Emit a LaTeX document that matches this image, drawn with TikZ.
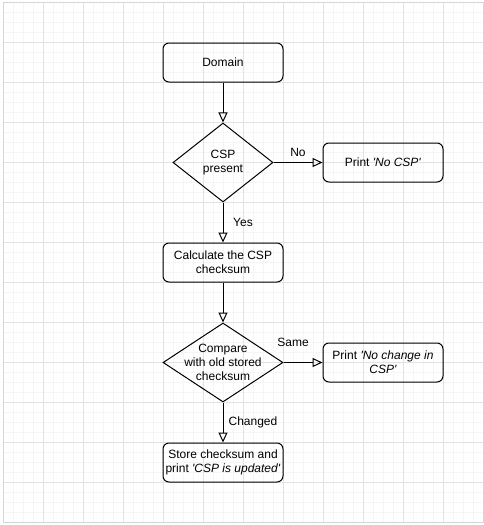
\documentclass[tikz,border=0pt]{standalone}
\usepackage{fontspec}
\setmainfont{Liberation Sans}
\usetikzlibrary{arrows.meta,shapes.geometric}
\definecolor{minorgrid}{HTML}{F5F5F5}
\definecolor{majorgrid}{HTML}{E2E2E2}
\definecolor{pageedge}{HTML}{D6D6D6}
\tikzset{
  box/.style={draw, line width=1pt, rounded corners=6pt, minimum width=120pt, minimum height=39pt, align=center, inner sep=2pt, font=\fontsize{12}{14}\selectfont},
  decision/.style={draw, line width=1pt, diamond, inner sep=0pt},
  dtext/.style={align=center, inner sep=0pt, font=\fontsize{12}{14}\selectfont},
  elabel/.style={inner sep=1pt, font=\fontsize{12}{14}\selectfont},
  arr/.style={line width=1pt, -{Triangle[open, length=10pt, width=9pt]}},
}
\newcommand{\sq}{\textquotesingle}
\begin{document}
\begin{tikzpicture}[x=1pt, y=-1pt]
\useasboundingbox (0,0) rectangle (484,525);
\fill[white] (0,0) rectangle (484,525);
% grid
\foreach \x in {13,23,...,473} \draw[minorgrid, line width=1pt] (\x,2) -- (\x,522);
\foreach \y in {12,22,...,512} \draw[minorgrid, line width=1pt] (3,\y) -- (483,\y);
\foreach \x in {43,83,...,443} \draw[majorgrid, line width=1pt] (\x,2) -- (\x,522);
\foreach \y in {42,82,...,482} \draw[majorgrid, line width=1pt] (3,\y) -- (483,\y);
\draw[pageedge, line width=1pt] (3,2) rectangle (483,522);

% nodes
\node[box] (dom) at (223,62.5) {Domain};
\node[decision, minimum width=100pt, minimum height=79pt] (d1) at (223,162.5) {};
\node[dtext] (d1t) at (d1) {CSP\\present};
\node[box] (nocsp) at (383,162.5) {Print \textit{\sq No CSP\sq}};
\node[box] (calc) at (223,262.5) {Calculate the CSP\\checksum};
\node[decision, minimum width=120pt, minimum height=79pt] (d2) at (223,362.5) {};
\node[dtext] (d2t) at (d2) {Compare\\with old stored\\checksum};
\node[box] (nochange) at (383,362.5) {Print \textit{\sq No change in}\\\textit{CSP\sq}};
\node[box] (store) at (223,462.5) {Store checksum and\\print \textit{\sq CSP is updated\sq}};

% connectors
\draw[arr] (dom) -- (d1);
\draw[arr] (d1) -- (nocsp);
\draw[arr] (d1) -- (calc);
\draw[arr] (calc) -- (d2);
\draw[arr] (d2) -- (nochange);
\draw[arr] (d2) -- (store);

% edge labels
\node[elabel] (lno) at (298,152) {No};
\node[elabel] (lyes) at (243,222) {Yes};
\node[elabel] (lsame) at (293,342) {Same};
\node[elabel] (lchg) at (253,422) {Changed};
\end{tikzpicture}
\end{document}
